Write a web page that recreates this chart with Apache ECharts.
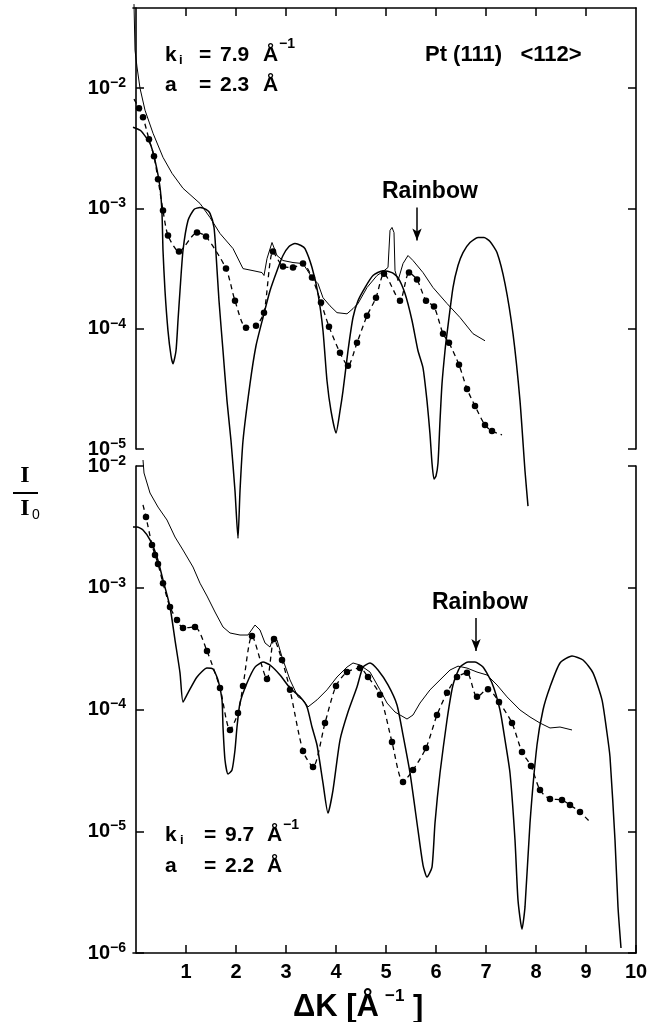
<!DOCTYPE html>
<html><head><meta charset="utf-8">
<script src="https://cdn.jsdelivr.net/npm/echarts@6/dist/echarts.min.js"></script>
<style>html,body{margin:0;padding:0;background:#fff}#c{width:656px;height:1022px}</style>
</head><body><div id="c"></div><script>
// ---- Data ----
const xTickValues = [1,2,3,4,5,6,7,8,9,10];
const topDecades = [1e-5,1e-4,1e-3,1e-2];
const botDecades = [1e-6,1e-5,1e-4,1e-3,1e-2];

// top panel: ki = 7.9, measured (thin, noisy)
const topThinX = [-0.04,-0.02,0.02,0.08,0.18,0.34,0.54,0.72,0.94,1.28,1.48,1.68,1.94,2.14,2.34,2.52,2.56,2.62,2.72,2.82,2.94,3.14,3.34,3.52,3.64,3.74,3.88,4.02,4.22,4.34,4.44,4.62,4.82,4.94,5.04,5.08,5.12,5.16,5.18,5.24,5.34,5.44,5.54,5.74,5.94,6.22,6.48,6.74,6.98];
const topThinY = [5.0e-2,2.07e-2,1.5e-2,1e-2,6.56e-3,4.22e-3,2.66e-3,1.96e-3,1.47e-3,1.1e-3,8.41e-4,6.19e-4,4.64e-4,3.16e-4,3.04e-4,2.93e-4,2.77e-4,3.83e-4,5.21e-4,4.06e-4,3.69e-4,3.55e-4,3.48e-4,2.66e-4,2.37e-4,1.81e-4,1.55e-4,1.36e-4,1.33e-4,1.47e-4,1.62e-4,2.2e-4,2.77e-4,2.99e-4,3.23e-4,6.56e-4,6.95e-4,6.3e-4,3.04e-4,2.51e-4,3.48e-4,4.06e-4,3.69e-4,2.93e-4,2.2e-4,1.62e-4,1.24e-4,9.09e-5,7.94e-5];
// top panel: dashed with dots
const topDashX = [-0.04,0.06,0.14,0.26,0.36,0.44,0.54,0.64,0.86,1.22,1.4,1.8,1.98,2.2,2.4,2.56,2.74,2.94,3.14,3.34,3.52,3.7,3.86,4.08,4.24,4.42,4.62,4.8,4.96,5.28,5.46,5.62,5.8,5.96,6.14,6.26,6.46,6.62,6.78,6.98,7.12,7.32];
const topDashY = [8.1e-3,6.81e-3,5.73e-3,3.76e-3,2.71e-3,1.75e-3,9.62e-4,5.96e-4,4.38e-4,6.31e-4,5.84e-4,3.16e-4,1.71e-4,1.02e-4,1.06e-4,1.36e-4,4.38e-4,3.29e-4,3.23e-4,3.48e-4,2.66e-4,1.65e-4,1.04e-4,6.31e-5,4.92e-5,7.64e-5,1.28e-4,1.81e-4,2.87e-4,1.71e-4,2.93e-4,2.56e-4,1.71e-4,1.53e-4,9.09e-5,7.64e-5,5.01e-5,3.16e-5,2.28e-5,1.58e-5,1.41e-5,1.31e-5];
// top panel: calculated (smooth solid)
const topTheoX = [-0.06,0.08,0.14,0.28,0.38,0.48,0.52,0.54,0.58,0.64,0.7,0.74,0.8,0.84,0.88,0.94,1.04,1.16,1.28,1.4,1.48,1.56,1.6,1.66,1.74,1.82,1.9,1.98,2.04,2.08,2.14,2.28,2.4,2.54,2.68,2.82,2.94,3.06,3.18,3.3,3.38,3.52,3.64,3.74,3.82,3.9,4.0,4.08,4.14,4.24,4.34,4.44,4.58,4.74,4.94,5.12,5.24,5.38,5.52,5.64,5.74,5.82,5.88,5.92,5.96,6.0,6.04,6.08,6.12,6.18,6.22,6.34,6.44,6.54,6.68,6.84,6.96,7.08,7.22,7.38,7.54,7.68,7.78,7.84];
const topTheoY = [4.73e-3,4.47e-3,4.22e-3,3.48e-3,2.51e-3,1.5e-3,9.09e-4,4.47e-4,2.07e-4,9.6e-5,5.96e-5,5.11e-5,6.56e-5,1.17e-4,2.07e-4,4.47e-4,7.94e-4,9.81e-4,1.02e-3,9.81e-4,9.09e-4,6.95e-4,4.22e-4,1.71e-4,6.56e-5,2.51e-5,1.17e-5,4.47e-6,1.81e-6,4.47e-6,1.17e-5,3.48e-5,7.22e-5,1.24e-4,2.07e-4,3.04e-4,4.06e-4,4.82e-4,5.11e-4,4.92e-4,4.64e-4,3.23e-4,1.96e-4,9.62e-5,3.69e-5,2.07e-5,1.36e-5,2.07e-5,3.04e-5,6.56e-5,1.24e-4,1.71e-4,2.2e-4,2.77e-4,3.04e-4,2.93e-4,2.66e-4,1.96e-4,1.17e-4,6.56e-5,4.73e-5,2.51e-5,1.33e-5,7.64e-6,5.62e-6,5.96e-6,7.64e-6,1.71e-5,3.48e-5,6.56e-5,9.09e-5,2.2e-4,3.35e-4,4.3e-4,5.21e-4,5.73e-4,5.73e-4,5.31e-4,4.3e-4,2.37e-4,9.09e-5,2.51e-5,6.56e-6,3.35e-6];

// bottom panel: ki = 9.7, measured (thin, noisy)
const botThinX = [0.14,0.16,0.28,0.44,0.62,0.78,0.94,1.14,1.28,1.42,1.58,1.74,1.88,2.08,2.24,2.38,2.48,2.58,2.68,2.74,2.82,2.92,3.08,3.24,3.34,3.44,3.62,3.82,4.02,4.22,4.34,4.48,4.68,4.88,5.02,5.18,5.42,5.54,5.68,5.88,6.08,6.28,6.44,6.62,6.82,7.02,7.22,7.42,7.68,7.88,8.08,8.28,8.48,8.72];
const botThinY = [1.12e-2,8.76e-3,6e-3,4.6e-3,3.6e-3,2.61e-3,2.04e-3,1.48e-3,1.09e-3,8.55e-4,6.32e-4,4.76e-4,4.25e-4,4.09e-4,4.09e-4,4.94e-4,4.5e-4,3.52e-4,3.26e-4,3.86e-4,3.72e-4,2.7e-4,1.75e-4,1.27e-4,1.2e-4,1.05e-4,1.2e-4,1.45e-4,1.85e-4,2.23e-4,2.41e-4,2.32e-4,2.03e-4,1.45e-4,1.13e-4,9.53e-5,8.35e-5,9.01e-5,1.13e-4,1.45e-4,1.75e-4,2.11e-4,2.27e-4,2.19e-4,2.03e-4,1.92e-4,1.59e-4,1.27e-4,9.91e-5,8.68e-5,7.74e-5,7.05e-5,7.18e-5,6.79e-5];
// bottom panel: dashed with dots
const botDashX = [0.14,0.2,0.32,0.38,0.44,0.54,0.68,0.82,0.94,1.18,1.42,1.68,1.88,2.04,2.14,2.32,2.62,2.76,2.92,3.08,3.34,3.54,3.78,4.0,4.22,4.48,4.64,4.88,5.12,5.34,5.54,5.8,6.02,6.22,6.42,6.62,6.82,7.04,7.26,7.52,7.72,7.9,8.08,8.28,8.52,8.68,8.88,9.08];
const botDashY = [4.79e-3,3.81e-3,2.24e-3,1.86e-3,1.57e-3,1.09e-3,6.95e-4,5.43e-4,4.67e-4,4.76e-4,3.02e-4,1.5e-4,6.79e-5,9.35e-5,1.56e-4,4.02e-4,1.78e-4,3.79e-4,2.55e-4,1.45e-4,4.56e-5,3.37e-5,7.74e-5,1.56e-4,2.03e-4,2.19e-4,1.85e-4,1.32e-4,5.4e-5,2.54e-5,3.18e-5,4.83e-5,9.01e-5,1.37e-4,1.85e-4,2e-4,1.27e-4,1.47e-4,1.15e-4,7.74e-5,4.48e-5,3.44e-5,2.18e-5,1.84e-5,1.81e-5,1.64e-5,1.44e-5,1.19e-5];
// bottom panel: calculated (smooth solid)
const botTheoX = [-0.06,0.02,0.14,0.28,0.42,0.54,0.68,0.78,0.88,0.94,1.04,1.22,1.42,1.54,1.64,1.72,1.74,1.78,1.84,1.92,1.98,2.02,2.08,2.22,2.38,2.54,2.68,2.88,3.08,3.28,3.42,3.52,3.62,3.74,3.84,3.94,4.08,4.24,4.42,4.54,4.68,4.84,5.04,5.22,5.34,5.48,5.64,5.74,5.82,5.92,5.98,6.08,6.22,6.34,6.48,6.64,6.78,6.94,7.12,7.28,7.38,7.48,7.58,7.64,7.72,7.78,7.88,8.02,8.14,8.28,8.48,8.72,8.94,9.14,9.32,9.42,9.48,9.58,9.64,9.7];
const botTheoY = [3.15e-3,3.15e-3,2.98e-3,2.47e-3,1.79e-3,1.16e-3,6.95e-4,3.72e-4,2e-4,1.15e-4,1.37e-4,1.85e-4,2.19e-4,2.15e-4,1.75e-4,1.2e-4,7.18e-5,3.85e-5,2.95e-5,3.18e-5,4.65e-5,7.18e-5,1.13e-4,1.65e-4,2.23e-4,2.45e-4,2.32e-4,1.92e-4,1.5e-4,1.27e-4,1.05e-4,7.18e-5,5.11e-5,2.49e-5,1.41e-5,2.18e-5,5.61e-5,9.53e-5,1.53e-4,2.23e-4,2.41e-4,2.11e-4,1.59e-4,1.09e-4,6.18e-5,3.01e-5,1.02e-5,5.28e-6,4.21e-6,5.08e-6,1.17e-5,3.01e-5,8.2e-5,1.59e-4,2.23e-4,2.45e-4,2.45e-4,2.23e-4,1.65e-4,9.91e-5,5.62e-5,3.01e-5,8.48e-6,2.72e-6,1.57e-6,2.39e-6,1.17e-5,5.11e-5,9.91e-5,1.53e-4,2.41e-4,2.75e-4,2.55e-4,2e-4,1.2e-4,6.41e-5,4.07e-5,8.48e-6,2.39e-6,1.1e-6];

// rainbow arrows [x, yFrom, yTo]
const topRainbow = [5.62, 1.02e-3, 5.41e-4];
const botRainbow = [6.8, 5.65e-4, 3.02e-4];

// ---- Chart ----
const FONT = 'Liberation Sans';
const INK = '#000';
const topYMin = 1e-5, topYMax = 0.0464, botYMin = 1e-6, botYMax = 1e-2;

function pairs(xs, ys) {
  if (xs.length !== ys.length) throw new Error('length mismatch ' + xs.length + ' ' + ys.length);
  return xs.map((x, i) => [x, ys[i]]);
}
function dotted(xs, ys) {
  const p = pairs(xs, ys);
  return p.map((v, i) => (i === 0 || i === p.length - 1) ? {value: v, symbol: 'none'} : v);
}
const expFmt = v => '{b|10}{s|−' + (-Math.round(Math.log10(v))) + '}';

function yAxisDef(grid, min, max, decades, pos, labels) {
  return {
    type: 'log', logBase: 10, gridIndex: grid, min: min, max: max, position: pos,
    axisLine: {show: true, lineStyle: {color: INK, width: 1.6}},
    axisTick: {show: true, inside: true, length: 8, lineStyle: {color: INK, width: 1.5}, customValues: decades},
    axisLabel: {show: labels, customValues: decades, formatter: expFmt, margin: 7,
      rich: {
        b: {fontSize: 20, fontFamily: FONT, fontWeight: 'bold', color: INK, lineHeight: 24},
        s: {fontSize: 14, fontFamily: FONT, fontWeight: 'bold', color: INK, verticalAlign: 'top', lineHeight: 24}
      }},
    splitLine: {show: false}
  };
}
function lineSeries(xi, yi, data, opts) {
  return Object.assign({type: 'line', xAxisIndex: xi, yAxisIndex: yi, data: data, clip: false, silent: true,
    symbol: 'none', lineStyle: {color: INK, width: 1}, animation: false}, opts);
}
function arrowMark(a) {
  return {silent: true, symbol: ['none', 'arrow'], symbolSize: [7, 12], label: {show: false},
    lineStyle: {color: INK, width: 1.5, type: 'solid'},
    data: [[{coord: [a[0], a[1]]}, {coord: [a[0], a[2]]}]]};
}
const dashStyle = {color: INK, width: 1.3, type: [5, 4]};
const dotOpts = {symbol: 'circle', symbolSize: 6.5, showSymbol: true, itemStyle: {color: INK}, smooth: 0.25};

function T(x, y, text, size, st) {
  return {type: 'text', x: x, y: y, silent: true,
    style: Object.assign({text: text, fontSize: size, fontFamily: FONT, fontWeight: 'bold', fill: INK,
      align: 'left', verticalAlign: 'middle'}, st || {})};
}

const chart = echarts.init(document.getElementById('c'), null, {renderer: 'canvas'});
chart.setOption({
  backgroundColor: '#fff',
  animation: false,
  textStyle: {fontFamily: FONT},
  grid: [
    {left: 133, right: 20, top: 8, height: 441},
    {left: 133, right: 20, top: 466, height: 487}
  ],
  xAxis: [
    {type: 'value', gridIndex: 0, min: -0.06, max: 10, position: 'top',
      axisLine: {show: true, onZero: false, lineStyle: {color: INK, width: 1.6}},
      axisTick: {show: true, inside: true, length: 8, lineStyle: {color: INK, width: 1.5}, customValues: xTickValues.slice(0, 9)},
      axisLabel: {show: false}, splitLine: {show: false}},
    {type: 'value', gridIndex: 1, min: -0.06, max: 10, position: 'bottom',
      axisLine: {show: true, onZero: false, lineStyle: {color: INK, width: 1.6}},
      axisTick: {show: true, inside: true, length: 8, lineStyle: {color: INK, width: 1.5}, customValues: xTickValues},
      axisLabel: {show: true, customValues: xTickValues, fontSize: 20, fontWeight: 'bold', fontFamily: FONT, color: INK, margin: 9},
      splitLine: {show: false}}
  ],
  yAxis: [
    yAxisDef(0, topYMin, topYMax, topDecades, 'left', true),
    yAxisDef(0, topYMin, topYMax, topDecades, 'right', false),
    yAxisDef(1, botYMin, botYMax, botDecades, 'left', true),
    yAxisDef(1, botYMin, botYMax, botDecades, 'right', false)
  ],
  series: [
    lineSeries(0, 0, pairs(topThinX, topThinY), {lineStyle: {color: INK, width: 1}, markLine: arrowMark(topRainbow)}),
    lineSeries(0, 0, dotted(topDashX, topDashY), Object.assign({lineStyle: dashStyle}, dotOpts)),
    lineSeries(0, 0, pairs(topTheoX, topTheoY), {lineStyle: {color: INK, width: 1.5}, smooth: 0.2}),
    lineSeries(1, 2, pairs(botThinX, botThinY), {lineStyle: {color: INK, width: 1}, markLine: arrowMark(botRainbow)}),
    lineSeries(1, 2, dotted(botDashX, botDashY), Object.assign({lineStyle: dashStyle}, dotOpts)),
    lineSeries(1, 2, pairs(botTheoX, botTheoY), {lineStyle: {color: INK, width: 1.5}, smooth: 0.2})
  ],
  graphic: [
    // top panel labels
    T(165, 55, 'k', 21), T(179, 60, 'i', 13),
    T(199, 55, '=', 21), T(220, 55, '7.9', 21), T(263, 55, 'Å', 21), T(279, 44, '−1', 14),
    T(165, 85, 'a', 21), T(199, 85, '=', 21), T(220, 85, '2.3', 21), T(263, 85, 'Å', 21),
    T(425, 55, 'Pt (111)   <112>', 22),
    T(382, 192, 'Rainbow', 23),
    // bottom panel labels
    T(432, 603, 'Rainbow', 23),
    T(165, 835, 'k', 21), T(180, 840, 'i', 13),
    T(204, 835, '=', 21), T(225, 835, '9.7', 21), T(267, 835, 'Å', 21), T(283, 825, '−1', 14),
    T(165, 866, 'a', 21), T(204, 866, '=', 21), T(225, 866, '2.2', 21), T(267, 866, 'Å', 21),
    // x axis title
    T(293, 1007, 'ΔK [Å', 31), T(385, 996, '−1', 17), T(413, 1008, ']', 31),
    // y axis title I / I0
    T(25, 476, 'I', 24, {align: 'center', fontFamily: 'Liberation Serif'}),
    {type: 'line', silent: true, shape: {x1: 13, y1: 493, x2: 38, y2: 493}, style: {stroke: INK, lineWidth: 2}},
    T(25, 509, 'I', 24, {align: 'center', fontFamily: 'Liberation Serif'}),
    T(32, 515, '0', 14, {fontFamily: FONT, fontWeight: 'normal'})
  ]
});
</script></body></html>
